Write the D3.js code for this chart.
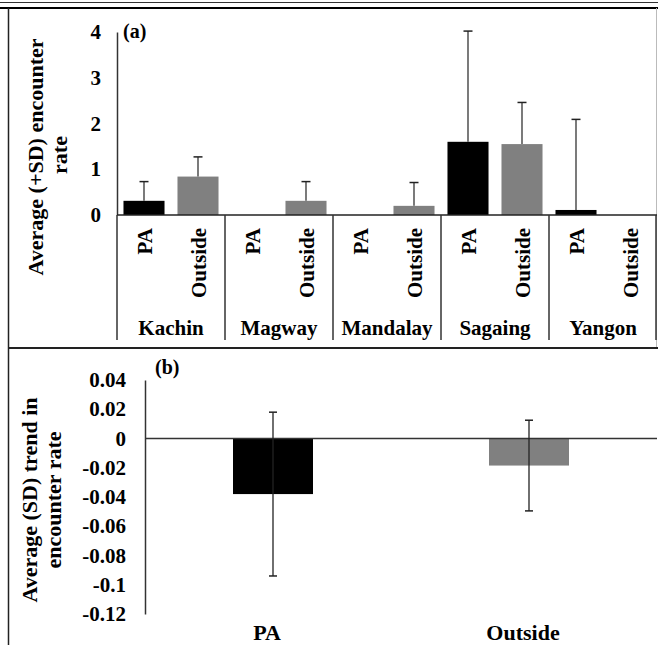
<html>
<script src='https://d3js.org/d3.v7.min.js'></script>
<style>
body {margin: 0; background: white;}
svg text {font-family: 'Liberation Serif', 'Times New Roman', serif; font-weight: bold; fill: black;}
</style>
<body>
<svg width=658 height=645></svg>
<script>
// panel (a): encounter rate by region, PA vs outside
var regions = ["Kachin", "Magway", "Mandalay", "Sagaing", "Yangon"];
var sites = ["PA", "Outside"];
var paMean = [0.31, 0, 0, 1.60, 0.11];
var paSD = [0.42, 0, 0, 2.42, 1.98];
var outMean = [0.84, 0.31, 0.20, 1.55, 0];
var outSD = [0.43, 0.42, 0.51, 0.91, 0];
var ticksA = [0, 1, 2, 3, 4];

// panel (b): trend in encounter rate
var trendCats = ["PA", "Outside"];
var trendMean = [-0.038, -0.0185];
var trendSD = [0.056, 0.031];
var ticksB = [0.04, 0.02, 0, -0.02, -0.04, -0.06, -0.08, -0.1, -0.12];
var tickLabelsB = ["0.04", "0.02", "0", "-0.02", "-0.04", "-0.06", "-0.08", "-0.1", "-0.12"];

var colors = {PA: "#000000", Outside: "#808080"};
var serif = "'Liberation Serif', 'Times New Roman', serif";

var svg = d3.select("svg");

// frame
svg.append("line").attr("x1", 0).attr("x2", 658).attr("y1", 2.5).attr("y2", 2.5)
   .attr("stroke", "#333").attr("stroke-width", 1);
svg.append("line").attr("x1", 0).attr("x2", 658).attr("y1", 8).attr("y2", 8)
   .attr("stroke", "#000").attr("stroke-width", 2);
svg.append("line").attr("x1", 8.5).attr("x2", 8.5).attr("y1", 8).attr("y2", 645)
   .attr("stroke", "#222").attr("stroke-width", 1.5);
svg.append("line").attr("x1", 656.5).attr("x2", 656.5).attr("y1", 8).attr("y2", 348)
   .attr("stroke", "#bbb").attr("stroke-width", 1);
svg.append("line").attr("x1", 8).attr("x2", 658).attr("y1", 348).attr("y2", 348)
   .attr("stroke", "#222").attr("stroke-width", 2);

// ---------- panel (a) ----------
var xa = d3.scaleBand().domain(regions).range([117, 657]);
var xs = d3.scaleBand().domain(sites).range([0, xa.bandwidth()]).paddingInner(0.24).paddingOuter(0.12);
var ya = d3.scaleLinear().domain([0, 4]).range([215, 32]);

var rowsA = [];
regions.forEach(function(r, i) {
    rowsA.push({region: r, site: "PA", mean: paMean[i], sd: paSD[i]});
    rowsA.push({region: r, site: "Outside", mean: outMean[i], sd: outSD[i]});
});

var gA = svg.append("g");

gA.append("g")
  .attr("transform", "translate(117,0)")
  .call(d3.axisLeft(ya).tickValues(ticksA).tickSize(0).tickPadding(16).tickFormat(d3.format("d")))
  .attr("font-family", serif)
  .call(function(g) {
      g.select(".domain").attr("stroke", "#333").attr("stroke-width", 1.5);
      g.selectAll("text").style("font-size", "21px");
  });

gA.selectAll("rect.bar")
  .data(rowsA.filter(function(d) { return d.mean > 0; }))
  .enter().append("rect")
  .attr("class", "bar")
  .attr("x", function(d) { return xa(d.region) + xs(d.site); })
  .attr("width", xs.bandwidth())
  .attr("y", function(d) { return ya(d.mean); })
  .attr("height", function(d) { return ya(0) - ya(d.mean); })
  .attr("fill", function(d) { return colors[d.site]; });

var errA = gA.selectAll("g.err")
  .data(rowsA.filter(function(d) { return d.sd > 0; }))
  .enter().append("g").attr("class", "err");
errA.append("line")
  .attr("x1", function(d) { return xa(d.region) + xs(d.site) + xs.bandwidth() / 2; })
  .attr("x2", function(d) { return xa(d.region) + xs(d.site) + xs.bandwidth() / 2; })
  .attr("y1", function(d) { return ya(d.mean); })
  .attr("y2", function(d) { return ya(d.mean + d.sd); })
  .attr("stroke", "#222").attr("stroke-width", 1.2);
errA.append("line")
  .attr("x1", function(d) { return xa(d.region) + xs(d.site) + xs.bandwidth() / 2 - 4.5; })
  .attr("x2", function(d) { return xa(d.region) + xs(d.site) + xs.bandwidth() / 2 + 4.5; })
  .attr("y1", function(d) { return ya(d.mean + d.sd); })
  .attr("y2", function(d) { return ya(d.mean + d.sd); })
  .attr("stroke", "#222").attr("stroke-width", 1.5);

// baseline and group dividers
gA.append("line").attr("x1", 117).attr("x2", 657).attr("y1", ya(0)).attr("y2", ya(0))
  .attr("stroke", "#222").attr("stroke-width", 1.5);
gA.selectAll("line.div")
  .data(regions.concat(["end"]))
  .enter().append("line").attr("class", "div")
  .attr("x1", function(d, i) { return i < regions.length ? xa(d) : xa.range()[1] - 1; })
  .attr("x2", function(d, i) { return i < regions.length ? xa(d) : xa.range()[1] - 1; })
  .attr("y1", ya(0)).attr("y2", 340)
  .attr("stroke", "#333").attr("stroke-width", 1.5);

// site labels (rotated)
gA.selectAll("text.site")
  .data(rowsA)
  .enter().append("text").attr("class", "site")
  .attr("transform", function(d) {
      return "translate(" + (xa(d.region) + xs(d.site) + xs.bandwidth() / 2 + 1) + ",228) rotate(-90)";
  })
  .attr("dy", "0.35em")
  .style("text-anchor", "end")
  .style("font-size", "21px")
  .text(function(d) { return d.site; });

gA.selectAll("text.region")
  .data(regions)
  .enter().append("text").attr("class", "region")
  .attr("x", function(d) { return xa(d) + xa.bandwidth() / 2; })
  .attr("y", 335)
  .style("text-anchor", "middle")
  .style("font-size", "21px")
  .text(function(d) { return d; });

gA.append("text").attr("x", 123).attr("y", 38).style("font-size", "20px").text("(a)");

gA.append("text")
  .attr("transform", "translate(43,157) rotate(-90)")
  .style("text-anchor", "middle").style("font-size", "22px")
  .text("Average (+SD) encounter");
gA.append("text")
  .attr("transform", "translate(67,155) rotate(-90)")
  .style("text-anchor", "middle").style("font-size", "22px")
  .text("rate");

// ---------- panel (b) ----------
var xb = d3.scaleBand().domain(trendCats).range([145, 657]);
var yb = d3.scaleLinear().domain([-0.12, 0.04]).range([614, 380]);
var barW = xb.bandwidth() * 0.3125;

var rowsB = trendCats.map(function(c, i) { return {cat: c, mean: trendMean[i], sd: trendSD[i]}; });

var gB = svg.append("g");

gB.append("g")
  .attr("transform", "translate(145,0)")
  .call(d3.axisLeft(yb).tickValues(ticksB).tickSize(0).tickPadding(19)
        .tickFormat(function(d, i) { return tickLabelsB[i]; }))
  .attr("font-family", serif)
  .call(function(g) {
      g.select(".domain").attr("stroke", "#333").attr("stroke-width", 1.5);
      g.selectAll("text").style("font-size", "21px");
  });

gB.selectAll("rect.bar")
  .data(rowsB)
  .enter().append("rect").attr("class", "bar")
  .attr("x", function(d) { return xb(d.cat) + xb.bandwidth() / 2 - barW / 2; })
  .attr("width", barW)
  .attr("y", yb(0))
  .attr("height", function(d) { return yb(d.mean) - yb(0); })
  .attr("fill", function(d) { return colors[d.cat]; });

gB.append("line").attr("x1", 145).attr("x2", 657).attr("y1", yb(0)).attr("y2", yb(0))
  .attr("stroke", "#333").attr("stroke-width", 1.5);

var errB = gB.selectAll("g.err").data(rowsB).enter().append("g").attr("class", "err");
errB.append("line")
  .attr("x1", function(d) { return xb(d.cat) + xb.bandwidth() / 2; })
  .attr("x2", function(d) { return xb(d.cat) + xb.bandwidth() / 2; })
  .attr("y1", function(d) { return yb(d.mean + d.sd); })
  .attr("y2", function(d) { return yb(d.mean - d.sd); })
  .attr("stroke", "#222").attr("stroke-width", 1.3);
[1, -1].forEach(function(s) {
    errB.append("line")
      .attr("x1", function(d) { return xb(d.cat) + xb.bandwidth() / 2 - 4; })
      .attr("x2", function(d) { return xb(d.cat) + xb.bandwidth() / 2 + 4; })
      .attr("y1", function(d) { return yb(d.mean + s * d.sd); })
      .attr("y2", function(d) { return yb(d.mean + s * d.sd); })
      .attr("stroke", "#222").attr("stroke-width", 1.5);
});

gB.selectAll("text.cat")
  .data(trendCats)
  .enter().append("text").attr("class", "cat")
  .attr("x", function(d) { return xb(d) + xb.bandwidth() / 2 - 6; })
  .attr("y", 640)
  .style("text-anchor", "middle").style("font-size", "22px")
  .text(function(d) { return d; });

gB.append("text").attr("x", 155).attr("y", 374).style("font-size", "20px").text("(b)");

gB.append("text")
  .attr("transform", "translate(37,500) rotate(-90)")
  .style("text-anchor", "middle").style("font-size", "22px")
  .text("Average (SD) trend in");
gB.append("text")
  .attr("transform", "translate(61,500) rotate(-90)")
  .style("text-anchor", "middle").style("font-size", "22px")
  .text("encounter rate");
</script>
</body>
</html>
